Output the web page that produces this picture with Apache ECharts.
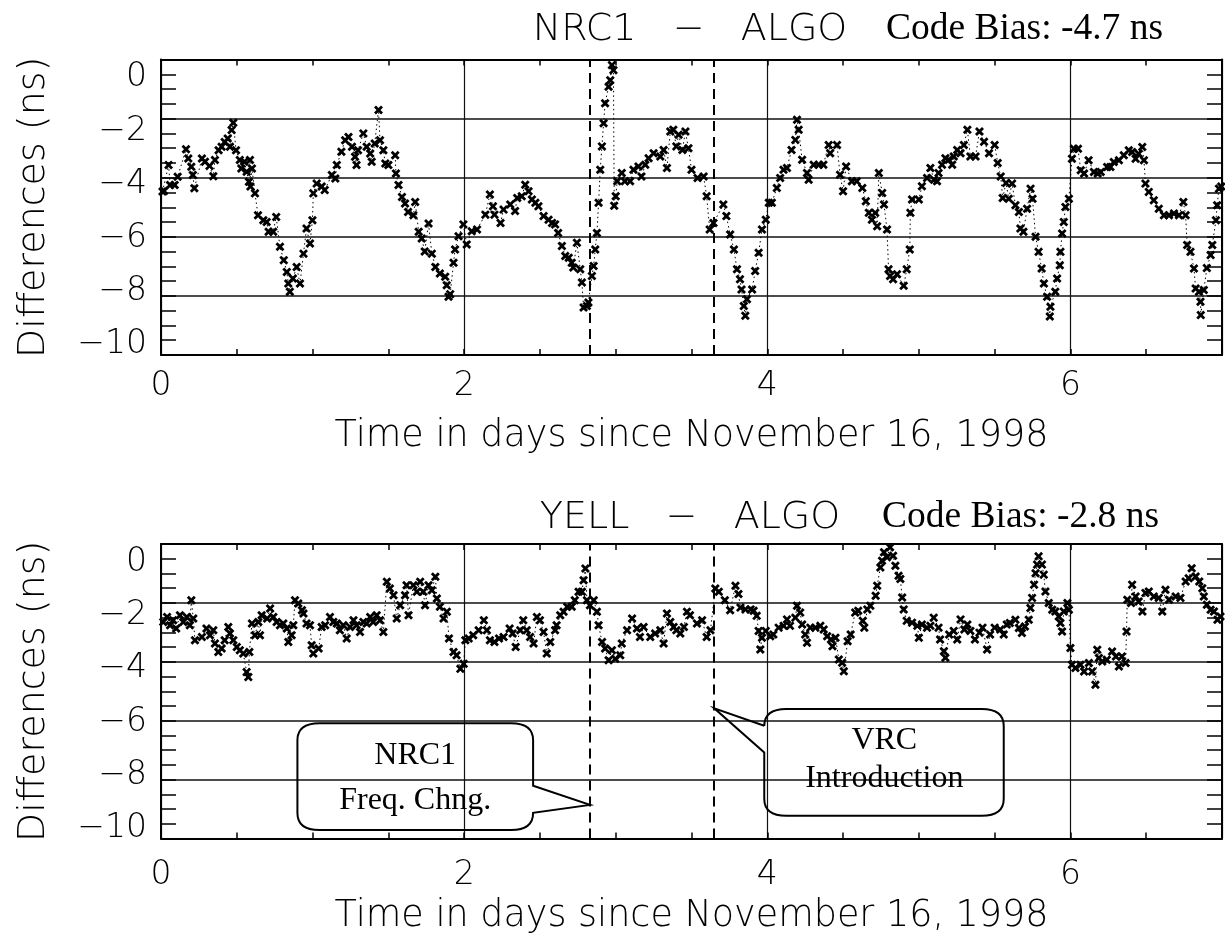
<!DOCTYPE html>
<html><head><meta charset="utf-8">
<script src="https://cdn.jsdelivr.net/npm/echarts@6/dist/echarts.min.js"></script>
<style>html,body{margin:0;padding:0;background:#fff}#c{width:1225px;height:951px}</style>
</head><body><div id="c"></div><script>
// ---------------- data ----------------
const xTickLabels = [0, 2, 4, 6];
const yTickLabels = [0, -2, -4, -6, -8, -10];
const eventDays = [2.83, 3.65];
const panelTitles = ['NRC1   \u2212   ALGO', 'YELL   \u2212   ALGO'];
const codeBias = ['Code Bias: -4.7 ns', 'Code Bias: -2.8 ns'];
const xAxisTitle = 'Time in days since November 16, 1998';
const yAxisTitle = 'Differences (ns)';

const nrc1Algo = [
[0.01,-4.47],[0.02,-4.45],[0.05,-3.57],[0.06,-4.25],[0.09,-4.25],[0.11,-3.97],[0.165,-3.04],[0.18,-3.35],[0.2,-3.63],[0.21,-3.91],
[0.22,-4.36],[0.27,-3.35],[0.29,-3.46],[0.32,-3.6],[0.345,-3.95],[0.356,-3.4],[0.38,-3.07],[0.40,-2.95],[0.42,-2.79],[0.44,-2.67],
[0.455,-2.95],[0.466,-2.39],[0.477,-2.14],[0.495,-3.07],[0.52,-3.4],[0.53,-3.69],[0.55,-3.46],[0.565,-3.8],[0.58,-4.14],[0.587,-3.4],
[0.59,-4.3],[0.6,-3.69],[0.62,-4.53],[0.64,-5.27],[0.675,-5.44],[0.697,-5.5],[0.71,-5.83],[0.74,-5.83],[0.76,-5.33],[0.785,-6.34],
[0.81,-6.79],[0.83,-7.19],[0.84,-7.58],[0.85,-7.86],[0.87,-7.41],[0.895,-7.02],[0.917,-7.58],[0.94,-6.57],[0.96,-5.72],[0.983,-6.23],
[0.999,-5.44],[1.005,-4.53],[1.027,-4.2],[1.06,-4.3],[1.08,-4.42],[1.127,-3.91],[1.15,-4.03],[1.16,-3.57],[1.19,-3.12],[1.215,-2.73],
[1.237,-2.62],[1.26,-2.95],[1.28,-3.29],[1.29,-3.57],[1.30,-3.07],[1.335,-2.5],[1.357,-2.95],[1.38,-3.18],[1.39,-3.46],[1.41,-2.84],
[1.435,-1.71],[1.445,-2.73],[1.467,-3.07],[1.48,-3.52],[1.5,-3.57],[1.545,-3.24],[1.55,-3.86],[1.567,-4.25],[1.59,-4.65],[1.61,-4.87],
[1.63,-5.16],[1.665,-5.27],[1.677,-4.82],[1.7,-5.83],[1.72,-6.06],[1.74,-6.5],[1.765,-5.55],[1.787,-6.57],[1.81,-7.02],[1.84,-7.24],
[1.875,-7.35],[1.885,-7.64],[1.897,-8.03],[1.908,-7.94],[1.93,-6.88],[1.94,-6.43],[1.963,-5.98],[1.995,-5.58],[2.017,-6.26],[2.05,-5.81],
[2.085,-5.75],[2.14,-5.25],[2.17,-4.57],[2.19,-4.97],[2.2,-5.25],[2.24,-5.53],[2.26,-5.08],[2.304,-4.91],[2.336,-5.13],[2.35,-4.69],
[2.38,-4.63],[2.403,-4.24],[2.425,-4.46],[2.447,-4.74],[2.47,-4.85],[2.49,-4.97],[2.524,-5.3],[2.557,-5.42],[2.58,-5.53],[2.6,-5.58],
[2.62,-5.87],[2.645,-6.31],[2.667,-6.65],[2.69,-6.71],[2.71,-6.88],[2.72,-7.04],[2.744,-6.2],[2.766,-7.1],[2.777,-7.55],[2.788,-8.39],
[2.81,-8.34],[2.82,-8.22],[2.843,-7.33],[2.854,-6.99],[2.865,-6.43],[2.876,-5.87],[2.887,-4.85],[2.898,-3.73],[2.909,-2.94],[2.92,-2.16],
[2.93,-1.48],[2.953,-0.92],[2.964,-0.7],[2.975,-0.19],[2.985,-0.36],[2.99,-4.95],[3.0,-4.63],[3.01,-4.12],[3.04,-3.84],[3.06,-4.12],
[3.095,-4.12],[3.117,-3.73],[3.15,-3.62],[3.17,-3.96],[3.195,-3.56],[3.217,-3.34],[3.25,-3.17],[3.294,-3.28],[3.316,-3.06],[3.338,-3.67],
[3.36,-2.44],[3.38,-2.38],[3.4,-2.94],[3.415,-2.55],[3.44,-3.06],[3.46,-2.44],[3.48,-3.0],[3.5,-3.73],[3.54,-4.01],[3.58,-3.96],
[3.6,-4.63],[3.62,-5.75],[3.645,-5.53],[3.71,-4.91],[3.73,-5.3],[3.755,-5.92],[3.78,-6.43],[3.8,-7.1],[3.82,-7.44],[3.83,-7.78],
[3.845,-8.34],[3.855,-8.67],[3.866,-8.11],[3.9,-7.78],[3.92,-7.16],[3.943,-6.54],[3.965,-5.75],[3.99,-5.42],[4.01,-4.85],[4.03,-4.85],
[4.063,-4.35],[4.085,-4.01],[4.107,-3.73],[4.13,-3.67],[4.16,-3.06],[4.185,-2.72],[4.196,-2.04],[4.207,-2.38],[4.23,-3.39],[4.262,-3.84],
[4.273,-4.07],[4.306,-3.56],[4.34,-3.56],[4.37,-3.56],[4.405,-2.89],[4.415,-3.17],[4.46,-2.89],[4.48,-3.9],[4.5,-4.46],[4.52,-3.62],
[4.558,-4.12],[4.59,-4.12],[4.627,-4.35],[4.65,-4.8],[4.67,-5.19],[4.69,-5.42],[4.712,-5.19],[4.725,-5.64],[4.736,-3.84],[4.758,-4.52],
[4.77,-4.91],[4.79,-5.75],[4.8,-7.1],[4.81,-7.33],[4.83,-7.44],[4.856,-7.27],[4.9,-7.66],[4.92,-7.1],[4.94,-6.43],[4.944,-5.19],
[4.955,-4.74],[5.0,-4.74],[5.02,-4.29],[5.054,-4.01],[5.076,-3.67],[5.1,-4.07],[5.12,-4.12],[5.13,-3.84],[5.153,-3.56],[5.175,-3.34],
[5.197,-3.39],[5.22,-3.56],[5.23,-3.28],[5.253,-3.06],[5.275,-3.17],[5.297,-2.89],[5.32,-2.38],[5.34,-3.28],[5.374,-3.28],[5.4,-2.44],
[5.43,-2.78],[5.463,-3.17],[5.5,-2.89],[5.52,-3.5],[5.54,-3.96],[5.553,-4.69],[5.575,-4.18],[5.593,-4.71],[5.615,-4.2],[5.637,-4.93],
[5.66,-5.16],[5.67,-5.72],[5.69,-5.83],[5.714,-5.05],[5.737,-4.37],[5.75,-4.71],[5.77,-6.0],[5.79,-6.51],[5.81,-7.07],[5.825,-7.58],
[5.846,-8.03],[5.864,-8.7],[5.868,-8.37],[5.9,-7.86],[5.912,-7.41],[5.93,-6.96],[5.934,-6.51],[5.945,-5.89],[5.956,-5.5],[5.967,-4.99],
[5.99,-4.71],[6.01,-3.36],[6.023,-3.02],[6.05,-3.02],[6.068,-3.75],[6.09,-3.86],[6.12,-3.41],[6.155,-3.81],[6.18,-3.86],[6.2,-3.81],
[6.242,-3.64],[6.264,-3.64],[6.286,-3.47],[6.32,-3.41],[6.352,-3.24],[6.385,-3.07],[6.407,-3.13],[6.43,-3.36],[6.45,-3.19],[6.474,-2.96],
[6.485,-3.41],[6.495,-4.2],[6.517,-4.48],[6.55,-4.76],[6.583,-5.05],[6.617,-5.27],[6.65,-5.27],[6.683,-5.21],[6.716,-5.27],[6.745,-4.82],
[6.76,-5.27],[6.77,-6.28],[6.792,-6.51],[6.815,-7.07],[6.826,-7.75],[6.848,-7.86],[6.858,-8.2],[6.86,-8.65],[6.88,-7.8],[6.9,-7.06],
[6.925,-6.62],[6.936,-6.28],[6.96,-5.44],[6.968,-4.93],[6.98,-4.37],[6.995,-4.3]
];

const yellAlgo = [
[0.015,-2.65],[0.04,-2.48],[0.06,-2.76],[0.08,-2.59],[0.1,-2.87],[0.125,-2.42],[0.147,-2.65],[0.17,-2.48],[0.19,-2.76],[0.2,-1.91],
[0.213,-2.53],[0.224,-3.27],[0.27,-3.16],[0.3,-2.87],[0.323,-3.1],[0.345,-2.93],[0.356,-3.38],[0.378,-3.67],[0.4,-3.55],[0.42,-3.27],
[0.444,-2.82],[0.455,-3.04],[0.477,-3.27],[0.5,-3.5],[0.52,-3.61],[0.543,-3.72],[0.565,-4.35],[0.576,-4.52],[0.583,-3.67],[0.6,-2.7],
[0.62,-3.1],[0.642,-2.65],[0.653,-3.1],[0.664,-2.42],[0.7,-2.53],[0.72,-2.19],[0.741,-2.48],[0.763,-2.65],[0.785,-2.76],[0.807,-2.7],
[0.83,-2.87],[0.84,-3.33],[0.862,-3.1],[0.873,-2.76],[0.884,-1.91],[0.906,-2.02],[0.93,-2.25],[0.94,-2.36],[0.96,-2.7],[0.983,-2.76],
[0.994,-3.44],[1.005,-3.72],[1.04,-3.55],[1.06,-2.82],[1.083,-2.76],[1.115,-2.48],[1.137,-2.65],[1.16,-2.7],[1.18,-2.93],[1.203,-2.76],
[1.225,-3.21],[1.247,-2.82],[1.27,-2.59],[1.29,-2.76],[1.313,-2.99],[1.335,-2.65],[1.357,-2.7],[1.38,-2.48],[1.4,-2.65],[1.423,-2.42],
[1.445,-2.59],[1.467,-2.99],[1.49,-1.28],[1.51,-1.51],[1.534,-1.74],[1.555,-2.53],[1.578,-2.08],[1.61,-1.74],[1.62,-1.4],[1.633,-2.42],
[1.665,-1.4],[1.688,-1.62],[1.71,-1.28],[1.73,-1.62],[1.742,-2.08],[1.765,-1.4],[1.787,-1.57],[1.81,-1.11],[1.82,-1.85],[1.84,-2.13],
[1.864,-2.53],[1.886,-2.3],[1.9,-3.21],[1.93,-3.67],[1.95,-3.78],[1.975,-4.24],[1.997,-4.07],[2.008,-3.27],[2.03,-3.21],[2.06,-3.1],
[2.096,-2.93],[2.13,-2.59],[2.15,-2.93],[2.17,-3.27],[2.2,-3.33],[2.23,-3.21],[2.26,-3.16],[2.3,-2.87],[2.32,-3.04],[2.34,-3.5],
[2.37,-2.93],[2.39,-2.59],[2.413,-2.93],[2.435,-3.16],[2.458,-3.38],[2.48,-2.48],[2.5,-2.59],[2.524,-2.99],[2.545,-3.72],[2.568,-3.33],
[2.6,-2.93],[2.61,-2.76],[2.634,-2.42],[2.656,-2.3],[2.68,-2.13],[2.71,-2.13],[2.73,-1.91],[2.755,-1.62],[2.777,-1.62],[2.788,-1.23],
[2.8,-0.83],[2.81,-1.91],[2.83,-2.08],[2.855,-1.91],[2.876,-2.3],[2.887,-2.76],[2.91,-3.33],[2.93,-3.55],[2.953,-3.95],[2.975,-3.61],
[2.997,-3.9],[3.03,-3.78],[3.04,-3.38],[3.075,-2.93],[3.108,-2.53],[3.14,-2.87],[3.16,-3.16],[3.184,-2.82],[3.228,-3.16],[3.26,-3.04],
[3.294,-2.93],[3.316,-3.38],[3.338,-2.36],[3.36,-2.65],[3.382,-2.82],[3.4,-2.93],[3.426,-3.04],[3.45,-2.82],[3.47,-2.3],[3.49,-2.42],
[3.536,-2.7],[3.57,-2.59],[3.6,-3.16],[3.625,-2.93],[3.657,-1.51],[3.68,-1.62],[3.72,-1.91],[3.755,-2.25],[3.79,-1.42],[3.81,-1.7],
[3.823,-2.16],[3.856,-2.22],[3.89,-2.22],[3.91,-2.27],[3.93,-2.44],[3.943,-2.95],[3.954,-3.58],[3.965,-3.18],[3.99,-2.95],[4.02,-3.13],
[4.04,-3.07],[4.075,-2.84],[4.108,-2.78],[4.13,-2.56],[4.15,-2.78],[4.185,-2.5],[4.196,-2.1],[4.217,-2.33],[4.23,-2.73],[4.25,-3.07],
[4.262,-3.35],[4.284,-2.84],[4.317,-2.84],[4.35,-2.78],[4.372,-2.9],[4.395,-3.13],[4.42,-3.24],[4.43,-3.47],[4.45,-3.18],[4.472,-3.92],
[4.494,-4.03],[4.505,-4.32],[4.53,-3.3],[4.55,-3.07],[4.58,-2.33],[4.6,-2.27],[4.63,-2.61],[4.64,-2.84],[4.66,-2.22],[4.68,-2.1],
[4.715,-1.76],[4.725,-1.42],[4.746,-0.8],[4.757,-0.57],[4.77,-0.28],[4.79,-0.45],[4.81,-0.11],[4.83,-0.4],[4.845,-0.74],[4.866,-1.08],
[4.878,-1.19],[4.89,-1.82],[4.9,-2.22],[4.92,-2.61],[4.955,-2.67],[4.99,-2.78],[5.0,-3.18],[5.02,-2.73],[5.054,-2.84],[5.076,-2.78],
[5.098,-2.5],[5.13,-2.84],[5.14,-3.24],[5.165,-3.64],[5.175,-3.86],[5.2,-3.07],[5.23,-2.95],[5.253,-3.24],[5.275,-2.56],[5.3,-2.9],
[5.32,-2.73],[5.34,-2.95],[5.37,-3.24],[5.4,-3.01],[5.42,-2.84],[5.45,-3.58],[5.47,-3.07],[5.5,-2.84],[5.537,-2.9],[5.56,-3.07],
[5.58,-2.73],[5.6,-2.68],[5.637,-2.57],[5.66,-2.85],[5.68,-3.02],[5.7,-2.8],[5.725,-2.57],[5.736,-2.17],[5.747,-1.83],[5.76,-1.38],
[5.77,-0.99],[5.78,-0.7],[5.79,-0.42],[5.812,-0.7],[5.824,-1.04],[5.835,-1.61],[5.857,-2.0],[5.88,-2.23],[5.9,-2.29],[5.923,-2.46],
[5.934,-2.68],[5.945,-2.97],[5.956,-2.29],[5.98,-2.0],[5.99,-2.23],[6.0,-3.53],[6.01,-4.1],[6.033,-4.21],[6.066,-4.1],[6.09,-4.33],
[6.122,-4.04],[6.143,-4.33],[6.165,-4.78],[6.177,-3.59],[6.188,-3.87],[6.21,-3.99],[6.24,-3.93],[6.275,-3.65],[6.3,-3.82],[6.32,-4.16],
[6.34,-3.82],[6.364,-4.04],[6.37,-2.97],[6.375,-1.89],[6.4,-2.0],[6.407,-1.38],[6.43,-1.78],[6.45,-1.95],[6.475,-2.29],[6.495,-1.66],
[6.517,-1.61],[6.55,-1.78],[6.583,-1.83],[6.606,-2.29],[6.627,-1.55],[6.65,-1.89],[6.694,-1.78],[6.726,-1.83],[6.76,-1.27],[6.78,-1.16],
[6.8,-0.82],[6.826,-1.1],[6.85,-1.27],[6.87,-1.5],[6.88,-1.78],[6.9,-2.06],[6.925,-2.23],[6.947,-2.29],[6.97,-2.57],[6.99,-2.46]
];

// annotation callouts on the lower panel (data coordinates)
const callouts = [
  {x0: 0.9, x1: 2.455, yTop: -6.09, yBot: -9.71, tip: [2.83, -8.86], base: [-8.21, -9.13], side: 'right',
   lines: ['NRC1', 'Freq. Chng.'], textX: 1.677, textY: [-7.19, -8.72]},
  {x0: 3.98, x1: 5.56, yTop: -5.6, yBot: -9.23, tip: [3.65, -5.58], base: [-6.17, -7.08], side: 'left',
   lines: ['VRC', 'Introduction'], textX: 4.772, textY: [-6.68, -7.97]}
];

// ---------------- chart ----------------
const SANS = "'DejaVu Sans ExtraLight','DejaVu Sans Light','Roboto Light',Roboto,sans-serif";
const SERIF = "'Liberation Serif','Times New Roman',serif";
const MARK = 'path://M0,2.2L2.2,0L5,2.8L7.8,0L10,2.2L7.2,5L10,7.8L7.8,10L5,7.2L2.2,10L0,7.8L2.8,5Z';
const chart = echarts.init(document.getElementById('c'), null, {renderer: 'canvas'});

const grids = [
  {left: 161, top: 59.5, width: 1061, height: 295.5},
  {left: 161, top: 544, width: 1061, height: 294.5}
];
const axisLineStyle = {color: '#000', width: 2};
const tickStyle = {color: '#000', width: 1.5};
const xAxes = [], yAxes = [], series = [];
const fmtY = v => (v < 0 ? '\u2212' + (-v) : String(v));

[0, 1].forEach(g => {
  xAxes.push({gridIndex: g, type: 'value', position: 'bottom', min: 0, max: 7, interval: 0.5,
    axisLine: {onZero: false, lineStyle: axisLineStyle},
    axisTick: {inside: true, length: 6, lineStyle: tickStyle},
    axisLabel: {margin: g ? 20 : 15, fontFamily: SANS, fontSize: 33, fontWeight: 200, color: '#000',
      formatter: v => (xTickLabels.indexOf(v) >= 0 ? String(v) : '')},
    splitLine: {show: false},
    name: xAxisTitle, nameLocation: 'middle', nameGap: g ? 60 : 63,
    nameTextStyle: {fontFamily: SANS, fontSize: 36.5, fontWeight: 200, color: '#000'}});
  xAxes.push({gridIndex: g, type: 'value', position: 'top', min: 0, max: 7, interval: 0.5,
    axisLine: {onZero: false, lineStyle: axisLineStyle},
    axisTick: {inside: true, length: 6, lineStyle: tickStyle},
    axisLabel: {show: false}, splitLine: {show: false}});
  xAxes.push({gridIndex: g, type: 'value', position: 'bottom', min: 0, max: 7, interval: 2,
    axisLine: {show: false, onZero: false}, axisTick: {show: false}, axisLabel: {show: false},
    splitLine: {show: true, lineStyle: {color: '#111', width: 1.2}}});

  yAxes.push({gridIndex: g, type: 'value', position: 'left', min: -10, max: 0, interval: 0.5,
    axisLine: {onZero: false, lineStyle: axisLineStyle},
    axisTick: {inside: true, length: 15, lineStyle: tickStyle},
    axisLabel: {show: false}, splitLine: {show: false}});
  yAxes.push({gridIndex: g, type: 'value', position: 'right', min: -10, max: 0, interval: 0.5,
    axisLine: {onZero: false, lineStyle: axisLineStyle},
    axisTick: {inside: true, length: 15, lineStyle: tickStyle},
    axisLabel: {show: false}, splitLine: {show: false}});
  yAxes.push({gridIndex: g, type: 'value', position: 'left', min: -10, max: 0, interval: 2,
    axisLine: {show: false, onZero: false}, axisTick: {show: false}, axisLabel: {show: false},
    splitLine: {show: true, lineStyle: {color: '#111', width: 1.6}}});
  yAxes.push({gridIndex: g, type: 'value', position: 'left', min: -10.38, max: 0.69,
    axisLine: {show: false, onZero: false}, axisTick: {show: false}, splitLine: {show: false},
    axisLabel: {customValues: yTickLabels, margin: 14, fontFamily: SANS, fontSize: 33, fontWeight: 200,
      color: '#000', formatter: fmtY},
    name: yAxisTitle, nameLocation: 'middle', nameRotate: 90, nameGap: 108,
    nameTextStyle: {fontFamily: SANS, fontSize: 38, fontWeight: 200, color: '#000'}});

  series.push({type: 'line', xAxisIndex: 3 * g, yAxisIndex: 4 * g, data: g ? yellAlgo : nrc1Algo,
    symbol: MARK, symbolSize: 9, symbolKeepAspect: true, showSymbol: true, showAllSymbol: true,
    itemStyle: {color: '#000'}, lineStyle: {color: '#000', width: 1, type: [1.5, 3]},
    z: 5, silent: true,
    markLine: {symbol: 'none', silent: true, label: {show: false},
      lineStyle: {color: '#000', width: 2, type: [10, 6]},
      data: eventDays.map(d => ({xAxis: d}))}});
});

series.push({type: 'custom', xAxisIndex: 3, yAxisIndex: 4, silent: true, z: 6,
  data: callouts.map(c => [c.x0, c.yTop]),
  renderItem: (params, api) => {
    const c = callouts[params.dataIndex];
    const [L, T] = api.coord([c.x0, c.yTop]);
    const [R, B] = api.coord([c.x1, c.yBot]);
    const tip = api.coord(c.tip);
    const b0 = api.coord([c.x0, c.base[0]])[1];
    const b1 = api.coord([c.x0, c.base[1]])[1];
    const rx = 22, ry = 17;
    let d;
    if (c.side === 'right') {
      d = `M${L + rx},${T}L${R - rx},${T}Q${R},${T} ${R},${T + ry}L${R},${b0}L${tip[0]},${tip[1]}L${R},${b1}` +
          `L${R},${B - ry}Q${R},${B} ${R - rx},${B}L${L + rx},${B}Q${L},${B} ${L},${B - ry}L${L},${T + ry}Q${L},${T} ${L + rx},${T}Z`;
    } else {
      d = `M${L + rx},${T}L${R - rx},${T}Q${R},${T} ${R},${T + ry}L${R},${B - ry}Q${R},${B} ${R - rx},${B}` +
          `L${L + rx},${B}Q${L},${B} ${L},${B - ry}L${L},${b1}L${tip[0]},${tip[1]}L${L},${b0}L${L},${T + ry}Q${L},${T} ${L + rx},${T}Z`;
    }
    const children = [{type: 'path', shape: {pathData: d}, style: {fill: 'none', stroke: '#000', lineWidth: 2}}];
    c.lines.forEach((txt, i) => {
      const p = api.coord([c.textX, c.textY[i]]);
      children.push({type: 'text', x: p[0], y: p[1],
        style: {text: txt, font: `32px ${SERIF}`, fill: '#000', align: 'center', verticalAlign: 'middle',
          textAlign: 'center', textVerticalAlign: 'middle'}});
    });
    return {type: 'group', children};
  }});

const titleY = [30, 518];
const graphicEls = [];
[0, 1].forEach(g => {
  graphicEls.push({type: 'text', x: 690, y: titleY[g],
    style: {text: panelTitles[g], font: `200 38px ${SANS}`, fill: '#000', align: 'center', verticalAlign: 'middle',
      textAlign: 'center', textVerticalAlign: 'middle'}});
  graphicEls.push({type: 'text', x: g ? 882 : 886, y: titleY[g] - 1,
    style: {text: codeBias[g], font: `37.5px ${SERIF}`, fill: '#000', align: 'left', verticalAlign: 'middle',
      textAlign: 'left', textVerticalAlign: 'middle'}});
});

chart.setOption({
  animation: false,
  backgroundColor: '#fff',
  grid: grids,
  xAxis: xAxes,
  yAxis: yAxes,
  series: series,
  graphic: {elements: graphicEls}
});
</script></body></html>
